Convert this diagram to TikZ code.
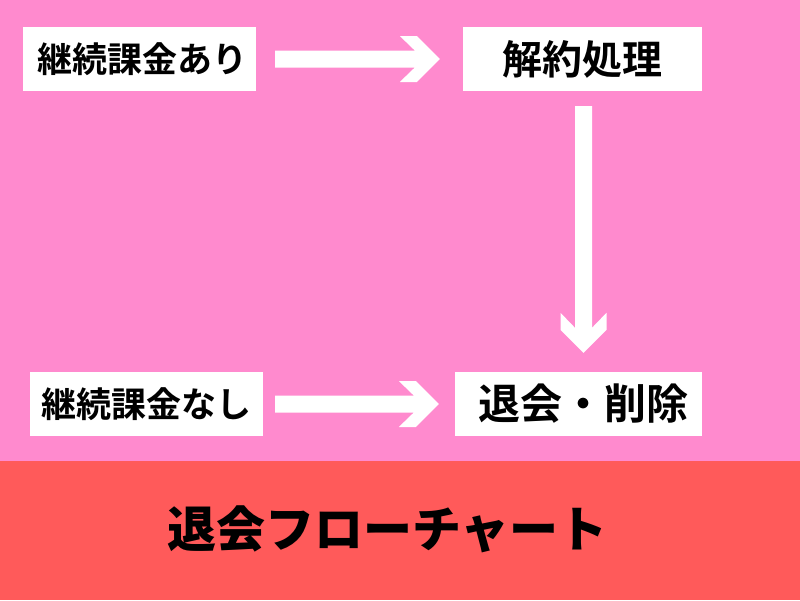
\documentclass[tikz,border=0pt]{standalone}
\usepackage{fontspec}
\newfontfamily\jpb{Noto Sans CJK JP Bold}
\newfontfamily\jpk{Noto Sans CJK JP Black}
\usetikzlibrary{calc}
\definecolor{bgpink}{HTML}{FF8ACE}
\definecolor{bandred}{HTML}{FF5A5A}
\newcommand\fatarrow[2]{%
  \fill[white] let \p1=#1, \p2=#2,
    \n1={atan2(\y2-\y1,\x2-\x1)}, \n2={veclen(\x2-\x1,\y2-\y1)} in
    [shift={(\p1)}, rotate=\n1]
    (0pt,-8.5pt) -- ({\n2*1pt-25pt},-8.5pt) -- ({\n2*1pt-40pt},-23pt) -- ({\n2*1pt-23pt},-23pt)
    -- ({\n2*1pt},0pt) -- ({\n2*1pt-23pt},23pt) -- ({\n2*1pt-40pt},23pt) -- ({\n2*1pt-25pt},8.5pt)
    -- (0pt,8.5pt) -- cycle;}
\begin{document}
\begin{tikzpicture}[x=1pt,y=-1pt,
  box/.style={fill=white, inner sep=0pt, text=black},
  boxfont/.style={font=\jpb\fontsize{#1}{#1}\selectfont}]
\useasboundingbox (0,0) rectangle (800,600);
\fill[bgpink] (0,0) rectangle (800,461);
\fill[bandred] (0,461) rectangle (800,600);
\node[box, minimum width=233pt, minimum height=64pt, boxfont=35] (b1) at (139.5,59) {\hspace*{5pt}継続課金あり};
\node[box, minimum width=239pt, minimum height=64pt, boxfont=40] (b2) at (582.5,59) {解約処理};
\node[box, minimum width=233pt, minimum height=64pt, boxfont=35] (b3) at (146.5,404) {継続課金なし};
\node[box, minimum width=247pt, minimum height=64pt, boxfont=42] (b4) at (578.5,404) {\hspace*{10pt}退会・削除};
\node[font=\jpk\fontsize{49}{49}\selectfont, text=black, inner sep=0pt] (title) at (387.5,529) {退会フローチャート};
\coordinate (a1s) at ($(b1.east)+(19pt,0pt)$);
\coordinate (a1e) at ($(b2.west)+(-23pt,0pt)$);
\coordinate (a2s) at ($(b3.east)+(12pt,0pt)$);
\coordinate (a2e) at ($(b4.west)+(-16pt,0pt)$);
\coordinate (a3s) at ($(b2.south)+(1pt,-15pt)$);
\coordinate (a3e) at ($(b2.south |- b4.north)+(1pt,19pt)$);
\fatarrow{(a1s)}{(a1e)}
\fatarrow{(a2s)}{(a2e)}
\fatarrow{(a3s)}{(a3e)}
\end{tikzpicture}
\end{document}
